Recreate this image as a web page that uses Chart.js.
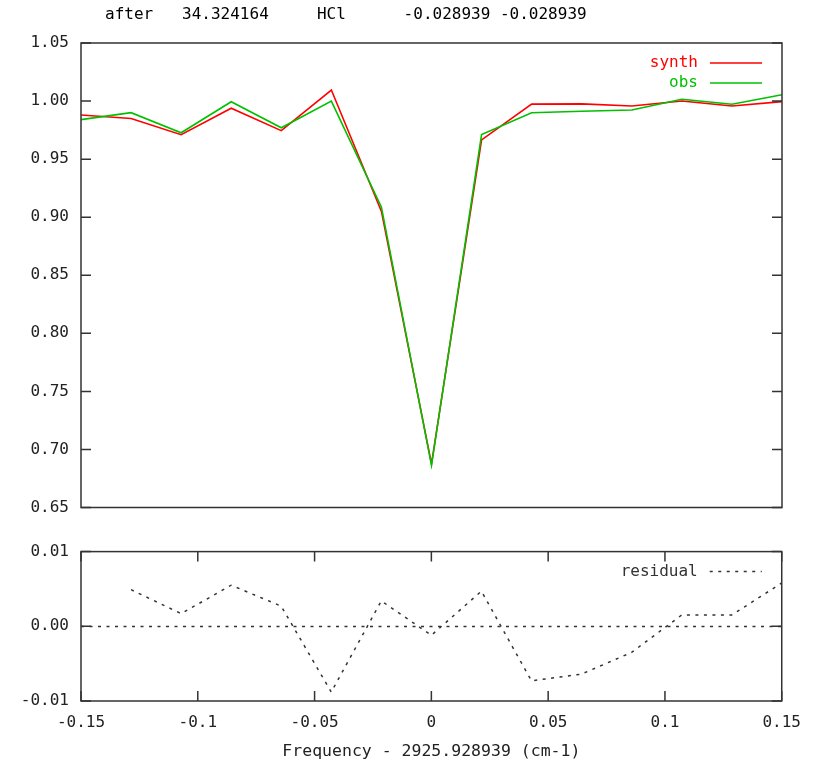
<!DOCTYPE html>
<html>
<head>
<meta charset="utf-8">
<title>synth vs obs</title>
<script src="https://cdn.jsdelivr.net/npm/chart.js@4.4.1/dist/chart.umd.min.js"></script>
<style>
  html, body { margin: 0; padding: 0; background: #fff; }
  #wrap { position: relative; width: 813px; height: 762px; }
  #topChart, #bottomChart { position: absolute; left: 0; }
  #topChart { top: 0; }
  #bottomChart { top: 530px; }
</style>
</head>
<body>
<div id="wrap">
  <canvas id="topChart" width="813" height="530"></canvas>
  <canvas id="bottomChart" width="813" height="232"></canvas>
</div>
<script>
// ---- data ----
const freq = [-0.15, -0.128571, -0.107143, -0.085714, -0.064286, -0.042857, -0.021429, 0,
              0.021429, 0.042857, 0.064286, 0.085714, 0.107143, 0.128571, 0.15];
const synth = [0.988, 0.985, 0.971, 0.9938, 0.9745, 1.0095, 0.905, 0.6875,
               0.9665, 0.9974, 0.9976, 0.9957, 1.0001, 0.9957, 0.9995];
const obs = [0.984, 0.990, 0.9727, 0.9994, 0.977, 1.000, 0.9086, 0.6863,
             0.9712, 0.990, 0.9912, 0.9923, 1.0016, 0.9973, 1.0055];
const residual = [null, 0.0049, 0.0017, 0.0055, 0.0027, -0.0088, 0.0034, -0.0012,
                  0.0047, -0.0073, -0.0064, -0.0035, 0.0015, 0.0015, 0.0058];

const titleText = 'after   34.324164     HCl      -0.028939 -0.028939';
const xLabel = 'Frequency - 2925.928939 (cm-1)';

const MONO = "'DejaVu Sans Mono', 'Liberation Mono', monospace";
const INK = '#222';
Chart.defaults.font.family = MONO;
Chart.defaults.font.size = 16;
Chart.defaults.color = INK;

function pts(ys) {
    return freq.map((f, i) => ({ x: f, y: ys[i] }));
}

// gnuplot-like frame: box, inward mirrored ticks, zero axis, key in the corner
const gnuplotFrame = {
    id: 'gnuplotFrame',
    beforeDatasetsDraw(chart, args, opts) {
        if (!opts.zeroLine) return;
        const { ctx, chartArea: a, scales: { y } } = chart;
        const py = Math.round(y.getPixelForValue(0)) + 0.5;
        ctx.save();
        ctx.strokeStyle = '#333';
        ctx.lineWidth = 1.5;
        ctx.setLineDash([3, 5.5]);
        ctx.beginPath();
        ctx.moveTo(a.left, py);
        ctx.lineTo(a.right, py);
        ctx.stroke();
        ctx.restore();
    },
    afterDatasetsDraw(chart, args, opts) {
        const { ctx, chartArea: a, scales: { x, y } } = chart;
        ctx.save();
        ctx.strokeStyle = '#333';
        ctx.lineWidth = 1.5;
        ctx.strokeRect(a.left, a.top, a.right - a.left, a.bottom - a.top);

        ctx.beginPath();
        y.ticks.forEach(t => {
            const py = y.getPixelForValue(t.value);
            ctx.moveTo(a.left, py); ctx.lineTo(a.left + 10, py);
            ctx.moveTo(a.right, py); ctx.lineTo(a.right - 10, py);
        });
        if (opts.xTicks) {
            x.ticks.forEach(t => {
                const px = x.getPixelForValue(t.value);
                ctx.moveTo(px, a.bottom); ctx.lineTo(px, a.bottom - 10);
                ctx.moveTo(px, a.top); ctx.lineTo(px, a.top + 10);
            });
        }
        ctx.stroke();

        // key
        ctx.font = '16px ' + MONO;
        ctx.textAlign = 'right';
        ctx.textBaseline = 'middle';
        chart.data.datasets.forEach((ds, i) => {
            const ly = a.top + 20 + i * 20;
            ctx.fillStyle = ds.keyColor || ds.borderColor;
            ctx.fillText(ds.label, a.right - 84, ly);
            ctx.strokeStyle = ds.borderColor;
            ctx.lineWidth = ds.borderWidth;
            ctx.setLineDash(ds.borderDash || []);
            ctx.beginPath();
            ctx.moveTo(a.right - 72, ly);
            ctx.lineTo(a.right - 20, ly);
            ctx.stroke();
        });

        if (opts.title) {
            ctx.setLineDash([]);
            ctx.textAlign = 'left';
            ctx.fillStyle = '#000';
            ctx.fillText(opts.title, 105, 15);
        }
        ctx.restore();
    }
};

// ---- upper panel: synth / obs ----
new Chart(document.getElementById('topChart'), {
    type: 'line',
    data: {
        datasets: [
            { label: 'synth', data: pts(synth), borderColor: '#ff0000', borderWidth: 1.6, order: 1 },
            { label: 'obs', data: pts(obs), borderColor: '#00c000', borderWidth: 1.6, order: 0 }
        ]
    },
    options: {
        responsive: false,
        animation: false,
        layout: { padding: { top: 43, right: 31, bottom: 22.5, left: 0 } },
        elements: { point: { radius: 0 }, line: { tension: 0 } },
        plugins: {
            legend: { display: false },
            tooltip: { enabled: false },
            gnuplotFrame: { title: titleText, xTicks: false, zeroLine: false }
        },
        scales: {
            x: { type: 'linear', min: -0.15, max: 0.15, display: false },
            y: {
                min: 0.65, max: 1.05,
                grid: { display: false, drawTicks: false },
                border: { display: false },
                ticks: { stepSize: 0.05, padding: 12, color: INK, callback: v => v.toFixed(2) },
                afterFit: s => { s.width = 81; }
            }
        }
    },
    plugins: [gnuplotFrame]
});

// ---- lower panel: residual ----
new Chart(document.getElementById('bottomChart'), {
    type: 'line',
    data: {
        datasets: [
            { label: 'residual', data: pts(residual), borderColor: '#333', keyColor: '#333',
              borderWidth: 1.5, borderDash: [3, 5.5] }
        ]
    },
    options: {
        responsive: false,
        animation: false,
        layout: { padding: { top: 18.3, right: 31, bottom: 0, left: 0 } },
        elements: { point: { radius: 0 }, line: { tension: 0 } },
        plugins: {
            legend: { display: false },
            tooltip: { enabled: false },
            gnuplotFrame: { xTicks: true, zeroLine: true }
        },
        scales: {
            x: {
                type: 'linear', min: -0.15, max: 0.15,
                grid: { display: false, drawTicks: false },
                border: { display: false },
                ticks: {
                    stepSize: 0.05, padding: 12, color: INK, maxRotation: 0,
                    callback: v => String(parseFloat(v.toFixed(2)))
                },
                title: { display: true, text: xLabel, color: INK, font: { size: 16.5 },
                         padding: { top: 0, bottom: 0 } },
                afterFit: s => { s.height = 61; }
            },
            y: {
                min: -0.01, max: 0.01,
                grid: { display: false, drawTicks: false },
                border: { display: false },
                ticks: {
                    stepSize: 0.01, padding: 12, color: INK,
                    callback: v => (Math.abs(v) < 1e-9 ? 0 : v).toFixed(2)
                },
                afterFit: s => { s.width = 81; }
            }
        }
    },
    plugins: [gnuplotFrame]
});
</script>
</body>
</html>
